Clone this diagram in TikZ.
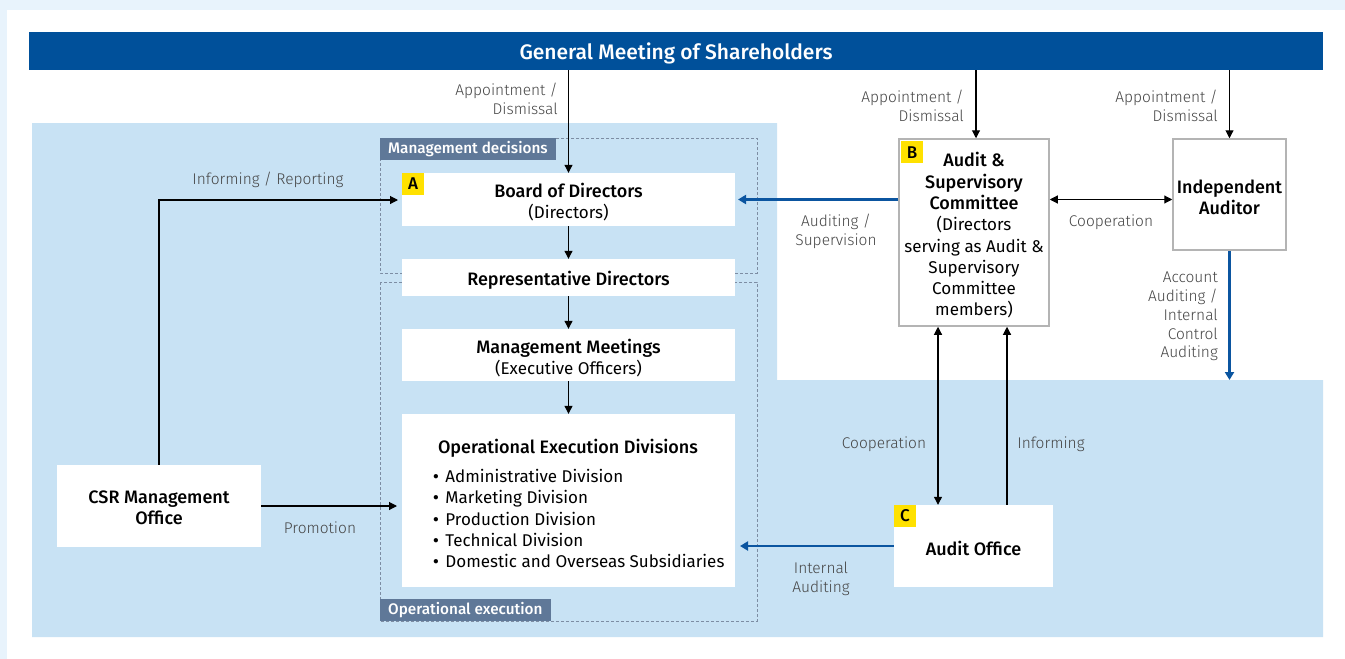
\documentclass[tikz,border=0pt]{standalone}
\usepackage{fontspec}
\setmainfont{Fira Sans}[BoldFont={Fira Sans Medium}]
\newfontfamily\lightf{Fira Sans Light}
\usetikzlibrary{arrows.meta}
\definecolor{bgout}{HTML}{E8F3FC}
\definecolor{panel}{HTML}{C8E2F4}
\definecolor{navy}{HTML}{00509A}
\definecolor{tagc}{HTML}{5F7898}
\definecolor{dashc}{HTML}{7D8DA3}
\definecolor{arrblue}{HTML}{0B55A0}
\definecolor{lblc}{HTML}{454545}
\definecolor{badgec}{HTML}{FFE100}
\definecolor{boxline}{HTML}{B4B4B4}
\newcommand\bigb[1]{{\bfseries\fontsize{18}{21.3}\selectfont #1}}
\newcommand\bul{{\bfseries •}\hspace{6.5pt}}
\begin{document}
\begin{tikzpicture}[x=1pt,y=-1pt,
 wbox/.style={fill=white, inner sep=0pt},
 gbox/.style={wbox, draw=boxline, line width=1.5pt},
 txt/.style={inner sep=0pt, align=center, font=\fontsize{17}{21.3}\selectfont},
 bt/.style={inner sep=0pt, align=center, font=\bfseries\fontsize{18}{21.3}\selectfont},
 badge/.style={fill=badgec, minimum size=22pt, inner sep=0pt, font=\bfseries\fontsize{17}{17}\selectfont, anchor=north west},
 lbl/.style={text=lblc, font=\lightf\fontsize{15.5}{18.8}\selectfont, inner sep=0pt},
 tagbox/.style={fill=tagc, text=white, inner xsep=8pt, inner ysep=0pt, minimum height=22pt, font=\bfseries\fontsize{15.3}{15.3}\selectfont},
 arr/.style={-{Triangle[length=8pt,width=8pt]}, line width=1.1pt},
 dblarr/.style={{Triangle[length=8pt,width=8pt]}-{Triangle[length=8pt,width=8pt]}, line width=1.1pt},
 barr/.style={-{Triangle[length=8pt,width=9pt]}, line width=2.4pt, arrblue},
 dbox/.style={draw=dashc, dash pattern=on 3pt off 2pt, line width=0.8pt}
]
\useasboundingbox (0,0) rectangle (1345,659);
\fill[bgout] (0,0) rectangle (1345,659);
\fill[white] (7,10) rectangle (1345,659);
\fill[panel] (32,123) -- (777,123) -- (777,380) -- (1323,380) -- (1323,637) -- (32,637) -- cycle;

% top bar
\node[fill=navy, minimum width=1294pt, minimum height=38pt, inner sep=0pt] (gm) at (676,51) {};
\node[inner sep=0pt, text=white, font=\bfseries\fontsize{21}{21}\selectfont] (gmt) at ([yshift=-2pt]gm.center) {General Meeting of Shareholders};

% dashed groups
\draw[dbox] (380,138) rectangle (757,273);
\draw[dbox] (380,282) rectangle (757,621);
\node[tagbox, anchor=north west] (tmd) at (380,138) {Management decisions};
\node[tagbox, anchor=south west] (toe) at (380,621) {Operational execution};

% boxes
\node[wbox, minimum width=333pt, minimum height=53pt] (bod) at (568.5,199.5) {};
\node[txt] (bodt) at ([yshift=-2.5pt]bod.center) {\bigb{Board of Directors}\\(Directors)};
\node[wbox, minimum width=333pt, minimum height=37pt] (rep) at (568.5,277.5) {};
\node[bt] (rept) at ([yshift=-2.5pt]rep.center) {Representative Directors};
\node[wbox, minimum width=333pt, minimum height=52pt] (mm) at (568.5,355) {};
\node[txt] (mmt) at ([yshift=-3pt]mm.center) {\bigb{Management Meetings}\\(Executive Officers)};
\node[wbox, minimum width=333pt, minimum height=173pt] (oed) at (568.5,500.5) {};
\node[bt] (oedt) at (568,448) {Operational Execution Divisions};
\node[anchor=north west, align=left, inner sep=0pt, font=\fontsize{17}{21.3}\selectfont] (oedl) at (433,469)
  {\bul Administrative Division\\\bul Marketing Division\\\bul Production Division\\\bul Technical Division\\\bul Domestic and Overseas Subsidiaries};

\node[gbox, minimum width=150pt, minimum height=187pt] (asc) at (974,232.5) {};
\node[txt] (asct) at ([yshift=-3pt]asc.center)
  {\bigb{Audit \&}\\\bigb{Supervisory}\\\bigb{Committee}\\(Directors\\serving as Audit \&\\Supervisory\\Committee\\members)};
\node[gbox, minimum width=113pt, minimum height=111pt] (ia) at (1229.5,194.5) {};
\node[bt] (iat) at ([yshift=-2.5pt]ia.center) {Independent\\Auditor};
\node[wbox, minimum width=159pt, minimum height=82pt] (ao) at (973.5,546) {};
\node[bt] (aot) at ([yshift=-2.5pt]ao.center) {Audit Office};
\node[wbox, minimum width=204pt, minimum height=82pt] (csr) at (159,506) {};
\node[bt] (csrt) at ([yshift=-2pt]csr.center) {CSR Management\\Office};

% badges
\node[badge] (ba) at (bod.north west) {A};
\node[badge] (bb) at (901,141) {B};
\node[badge] (bc) at (ao.north west) {C};

% helper coordinates
\coordinate (bodR) at (738,199.5);
\coordinate (bodL) at (398,200);
\coordinate (oedR) at (740,0);
\coordinate (oedL) at (397,0);
\coordinate (xa) at (938,0);
\coordinate (xb) at (1007,0);
\coordinate (xc) at (976,0);
\coordinate (iaend) at (1229.5,380);

% connectors
\draw[arr] (gm.south -| bod.north) -- (bod.north);
\node[lbl, anchor=east, align=right] (l1) at (558,98.5) {Appointment /\\Dismissal};
\draw[arr] (gm.south -| xc) -- (asc.north -| xc);
\node[lbl, anchor=east, align=right] (l2) at (964,106) {Appointment /\\Dismissal};
\draw[arr] (gm.south -| ia.north) -- (ia.north);
\node[lbl, anchor=east, align=right] (l3) at (1218,106) {Appointment /\\Dismissal};

\draw[arr] (bod.south) -- (rep.north);
\draw[arr] (rep.south) -- (mm.north);
\draw[arr] (mm.south) -- (oed.north);

\draw[barr] (asc.west |- bodR) -- (bodR);
\node[lbl, align=center] (l4) at (836,231) {Auditing /\\Supervision};
\draw[dblarr] (asc.east |- bodR) -- (ia.west |- bodR);
\node[lbl] (l5) at (1111,222) {Cooperation};
\draw[barr] (ia.south) -- (iaend);
\node[lbl, anchor=east, align=right] (l6) at (1218,316.5) {Account\\Auditing /\\Internal\\Control\\Auditing};

\draw[dblarr] (asc.south -| xa) -- (ao.north -| xa);
\node[lbl] (l7) at (884,444.5) {Cooperation};
\draw[arr] (ao.north -| xb) -- (asc.south -| xb);
\node[lbl] (l8) at (1051,444.5) {Informing};
\draw[barr] (ao.west) -- (ao.west -| oedR);
\node[lbl, align=center] (l9) at (821,579) {Internal\\Auditing};

\draw[arr] (csr.north) |- (bodL);
\node[lbl] (l10) at (268,180) {Informing / Reporting};
\draw[arr] (csr.east) -- (csr.east -| oedL);
\node[lbl] (l11) at (320,528) {Promotion};
\end{tikzpicture}
\end{document}
